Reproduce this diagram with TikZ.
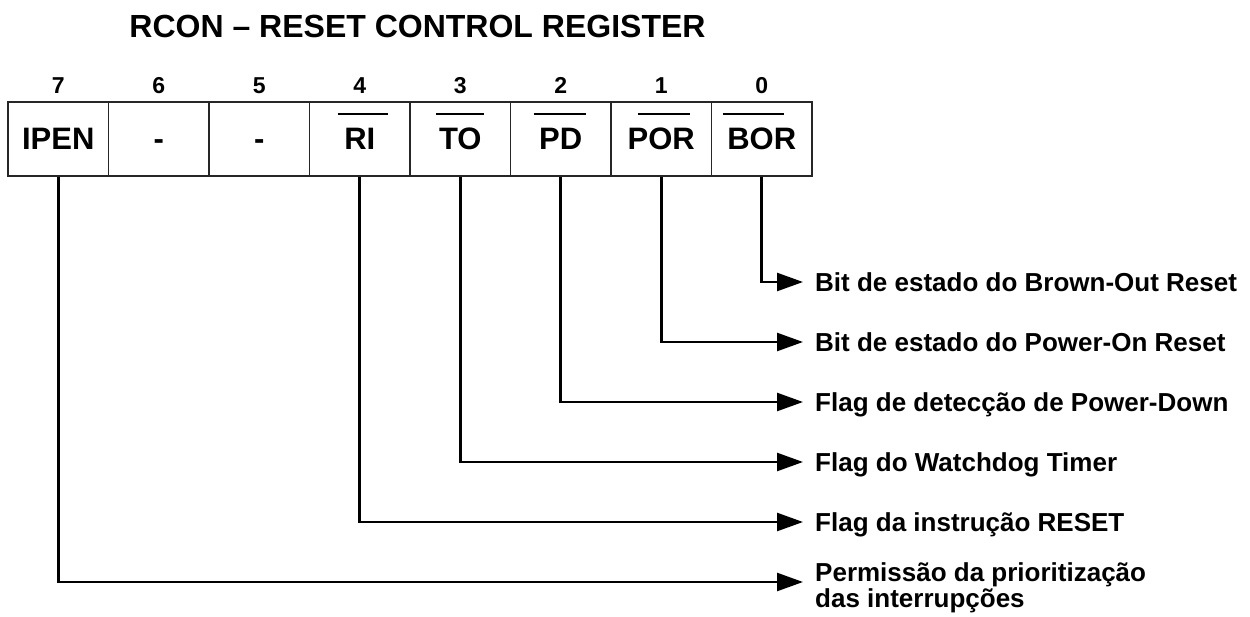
\documentclass[tikz,border=0pt]{standalone}
\usepackage{fontspec}
\setmainfont{Liberation Sans}
\usetikzlibrary{arrows.meta}
% #1 bar width, #2 horizontal shift of bar, #3 text
\newcommand{\ovl}[3]{\setbox0=\hbox{#3}\hbox to \wd0{\hss\kern#2\kern#2\smash{\raisebox{34.5pt}{\rule{#1}{2.6pt}}}\hss}\kern-\wd0\box0}
\begin{document}
\begin{tikzpicture}[x=1pt,y=-1pt,
  cell/.style={draw=black!85,line width=1.3pt,minimum width=100.5pt,minimum height=74pt,inner sep=0pt,
    font=\fontsize{31}{31}\selectfont\bfseries,text height=22pt,text depth=0pt},
  bitnum/.style={font=\fontsize{23}{23}\selectfont\bfseries,inner sep=0pt,text height=16pt,text depth=0pt},
  lbl/.style={font=\fontsize{26}{26}\selectfont\bfseries,anchor=west,inner xsep=12pt,inner ysep=0pt,
    text height=18.6pt,text depth=0pt},
  lbltwo/.style={font=\fontsize{26}{26}\selectfont\bfseries,anchor=north west,inner sep=0pt,align=left},
  conn/.style={line width=2.6pt,-{Triangle[length=26pt,width=18pt]}}]
\useasboundingbox (0,0) rectangle (1250,617);
\node[font=\fontsize{32}{32}\selectfont\bfseries,inner sep=0pt] (title) at (417.5,26) {RCON – RESET CONTROL REGISTER};
% cells
\node[cell] (c7) at (58.25,139) {IPEN};
\node[cell] (c6) at (158.75,139) {-};
\node[cell] (c5) at (259.25,139) {-};
\node[cell] (c4) at (359.75,139) {\ovl{50pt}{3pt}{RI}};
\node[cell] (c3) at (460.25,139) {\ovl{48pt}{0pt}{TO}};
\node[cell] (c2) at (560.75,139) {\ovl{52pt}{-1pt}{PD}};
\node[cell] (c1) at (661.25,139) {\ovl{52pt}{3pt}{POR}};
\node[cell] (c0) at (761.75,139) {\ovl{61pt}{-8pt}{BOR}};
% bit numbers
\node[bitnum] (b7) at (58.25,85.5) {7};
\node[bitnum] (b6) at (158.75,85.5) {6};
\node[bitnum] (b5) at (259.25,85.5) {5};
\node[bitnum] (b4) at (359.75,85.5) {4};
\node[bitnum] (b3) at (460.25,85.5) {3};
\node[bitnum] (b2) at (560.75,85.5) {2};
\node[bitnum] (b1) at (661.25,85.5) {1};
\node[bitnum] (b0) at (761.75,85.5) {0};
% labels
\node[lbl] (l0) at (803,282) {Bit de estado do Brown-Out Reset};
\node[lbl] (l1) at (803,342) {Bit de estado do Power-On Reset};
\node[lbl] (l2) at (803,402) {Flag de detecção de Power-Down};
\node[lbl] (l3) at (803,462) {Flag do Watchdog Timer};
\node[lbl] (l4) at (803,522) {Flag da instrução RESET};
\coordinate (e7) at (803,582);
\node[lbltwo] (l7) at (815,562) {Permissão da prioritização\\das interrupções};
% connectors
\draw[conn] (c0.south) |- (l0.west);
\draw[conn] (c1.south) |- (l1.west);
\draw[conn] (c2.south) |- (l2.west);
\draw[conn] (c3.south) |- (l3.west);
\draw[conn] (c4.south) |- (l4.west);
\draw[conn] (c7.south) |- (e7);
\end{tikzpicture}
\end{document}
